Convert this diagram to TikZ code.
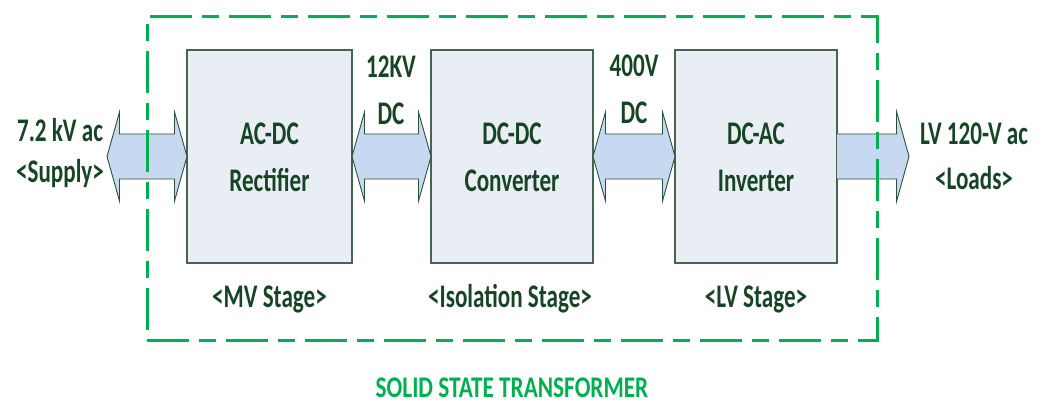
\documentclass[tikz,border=0pt]{standalone}
\usepackage{fontspec}
\setmainfont{Carlito}
\usetikzlibrary{calc}
\definecolor{dkgreen}{RGB}{24,68,38}
\definecolor{boxfill}{RGB}{233,237,244}
\definecolor{boxdraw}{RGB}{70,100,80}
\definecolor{arrfill}{RGB}{198,217,240}
\definecolor{arrdraw}{RGB}{45,80,60}
\definecolor{ssgreen}{RGB}{0,176,80}
\begin{document}
\begin{tikzpicture}[x=1pt,y=-1pt,
  blk/.style={draw=boxdraw, line width=1.4pt, fill=boxfill, minimum height=213pt, inner sep=0pt, outer sep=0pt},
  lbl/.style={font=\bfseries\fontsize{33}{33}\selectfont, text=dkgreen, xscale=0.70, inner sep=0pt, anchor=base},
  ttl/.style={font=\bfseries\fontsize{30}{30}\selectfont, text=ssgreen, xscale=0.775, inner sep=0pt, anchor=base},
  arr/.style={draw=arrdraw, line width=0.9pt, fill=arrfill, line join=miter},
  sstbox/.style={draw=ssgreen, line width=3pt, dash pattern=on 42pt off 10pt on 17pt off 10pt, minimum width=730pt, minimum height=323pt, inner sep=0pt, outer sep=0pt}
]
\useasboundingbox (0,0) rectangle (1043,403);
\fill[white] (0,0) rectangle (1043,403);

% blocks
\node[blk, minimum width=165pt] (b1) at (269.5,156.5) {};
\node[blk, minimum width=162pt] (b2) at (512,156.5) {};
\node[blk, minimum width=162pt] (b3) at (756,156.5) {};

\coordinate (supply) at (107,156.5);
\coordinate (loads) at (909,156.5);

% double arrows
\foreach \A/\B in {supply/b1.west, b1.east/b2.west, b2.east/b3.west}{
  \draw[arr] (\A) -- ($(\A)+(12.5,-44.5)$) -- ($(\A)+(12.5,-22.5)$)
     -- ($(\B)+(-12.5,-22.5)$) -- ($(\B)+(-12.5,-44.5)$) -- (\B)
     -- ($(\B)+(-12.5,44.5)$) -- ($(\B)+(-12.5,22.5)$)
     -- ($(\A)+(12.5,22.5)$) -- ($(\A)+(12.5,44.5)$) -- cycle;
}
% single arrow
\draw[arr] ($(b3.east)+(0,-22.5)$) -- ($(loads)+(-12.5,-22.5)$) -- ($(loads)+(-12.5,-45)$)
   -- (loads) -- ($(loads)+(-12.5,45)$) -- ($(loads)+(-12.5,22.5)$) -- ($(b3.east)+(0,22.5)$);

% dashed SST frame
\node[sstbox] (sst) at (512,178.5) {};

% labels
\node[lbl] (in1) at (60,142) {7.2 kV ac};
\node[lbl] (in2) at (60,183) {<Supply>};
\node[lbl] (b1a) at (269.5,145) {AC-DC};
\node[lbl] (b1b) at (269.5,192) {Rectifier};
\node[lbl] (b2a) at (512,145) {DC-DC};
\node[lbl] (b2b) at (512,192) {Converter};
\node[lbl] (b3a) at (756,145) {DC-AC};
\node[lbl] (b3b) at (756,192) {Inverter};
\node[lbl] (m1a) at (391,78) {12KV};
\node[lbl] (m1b) at (391,125) {DC};
\node[lbl] (m2a) at (634,77) {400V};
\node[lbl] (m2b) at (634,124) {DC};
\node[lbl] (out1) at (974,145) {LV 120-V ac};
\node[lbl] (out2) at (974,190) {<Loads>};
\node[lbl] (s1) at (269.5,307) {<MV Stage>};
\node[lbl] (s2) at (510,307) {<Isolation Stage>};
\node[lbl] (s3) at (756,307) {<LV Stage>};
\node[ttl] (title) at (512,397) {SOLID STATE TRANSFORMER};
\end{tikzpicture}
\end{document}
